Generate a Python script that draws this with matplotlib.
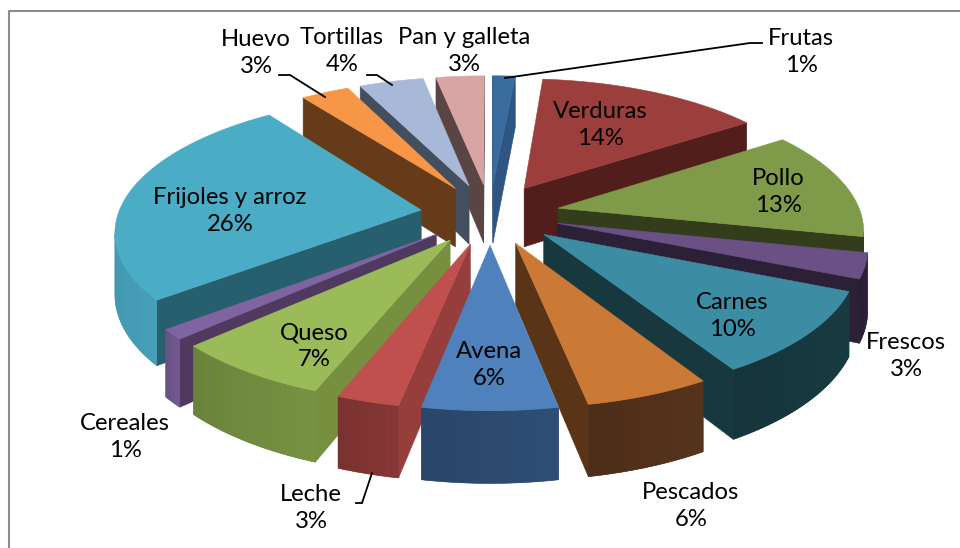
import numpy as np
import matplotlib
matplotlib.use("Agg")
import matplotlib.pyplot as plt
from matplotlib.patches import Polygon

plt.rcParams["font.family"] = ["Lato", "DejaVu Sans"]

# datos
categorias = ["Frutas", "Verduras", "Pollo", "Frescos", "Carnes", "Pescados", "Avena",
              "Leche", "Queso", "Cereales", "Frijoles y arroz", "Huevo", "Tortillas",
              "Pan y galleta"]
valores = [1.4, 14, 13, 3, 10, 5.6, 6, 2.8, 7.2, 1.2, 25.8, 3, 4, 3]

# colores: cara superior, cortes, borde exterior
c_top = ["#3A6B9F", "#9C3F3C", "#7F9A48", "#6A5085", "#3C8CA4", "#CB7A36", "#4F81BD",
         "#C0504D", "#9BBB59", "#8064A2", "#4BACC6", "#F79646", "#A8B8D8", "#D9A5A4"]
c_cut = ["#2F5583", "#521E1C", "#333D1C", "#2B2036", "#17383F", "#5A3417", "#2F4D71",
         "#963E3C", "#769040", "#50395F", "#275F6E", "#653B1A", "#434F5E", "#5A4545"]
c_rim = ["#2F5583", "#7A302E", "#333D1C", "#2B2036", "#17383F", "#52301A", "#2C4A6E",
         "#803432", "#708A3E", "#6B5487", "#4296AE", "#653B1A", "#434F5E", "#5A4545"]

# posicion de etiquetas (centro en pixeles)
pos_etiq = [(801, 52), (600, 125), (778, 192), (906, 356), (732, 316), (691, 506),
            (489, 365), (311, 508), (314, 346), (125, 437), (230, 211), (256, 53),
            (342, 51), (464, 51)]

# proyeccion con perspectiva ajustada a ojo
CX, CY = 490, 214
ESCALA_X, ESCALA_Y, ALTO = 303, 132, 60
K = 0.142
EXPLOSION = 0.23


def proy(x, y, z):
    w = 1 + K * y
    return np.column_stack([CX + ESCALA_X * x / w, CY - (ESCALA_Y * y + ALTO * z) / w])


def area(q):
    x, y = q[:, 0], q[:, 1]
    return np.sum(x * np.roll(y, -1) - np.roll(x, -1) * y)


def tono(color, f):
    rgb = np.array(matplotlib.colors.to_rgb(color)) * f
    return tuple(np.clip(rgb, 0, 1))


fig = plt.figure(figsize=(9.6, 5.48), dpi=100)
ax = fig.add_axes([0, 0, 1, 1])
ax.set_xlim(0, 960)
ax.set_ylim(548, 0)
ax.axis("off")

# marco: solo arriba y a la izquierda
ax.plot([9, 9, 960], [548, 11, 11], color="#8C8C8C", lw=1.5, zorder=0)

bordes = np.cumsum([0] + valores) / sum(valores) * 2 * np.pi
rebanadas = []
for i in range(len(valores)):
    a1, a2 = bordes[i], bordes[i + 1]
    med = (a1 + a2) / 2
    dx, dy = EXPLOSION * np.sin(med), EXPLOSION * np.cos(med)
    rebanadas.append((dy, i, a1, a2, dx))
rebanadas.sort(reverse=True)

zo = 1
for dy, i, a1, a2, dx in rebanadas:
    n = max(3, int(np.degrees(a2 - a1)))
    ang = np.linspace(a1, a2, n)
    xs, ys = dx + np.sin(ang), dy + np.cos(ang)
    arriba = proy(xs, ys, np.zeros(n))
    abajo = proy(xs, ys, -np.ones(n))
    ap_t = proy(np.array([dx]), np.array([dy]), np.array([0.0]))
    ap_b = proy(np.array([dx]), np.array([dy]), np.array([-1.0]))

    # cortes radiales
    for q in (np.vstack([ap_t, arriba[0], abajo[0], ap_b]),
              np.vstack([arriba[-1], ap_t, ap_b, abajo[-1]])):
        if area(q) < 0:
            ax.add_patch(Polygon(q, fc=c_cut[i], ec=c_cut[i], lw=0.4, zorder=zo))
            zo += 1

    # borde exterior: primero todo de un color, luego el degradado encima
    vis = [j for j in range(n - 1)
           if area(np.vstack([arriba[j], arriba[j + 1], abajo[j + 1], abajo[j]])) < 0]
    if vis:
        idx = list(range(vis[0], vis[-1] + 2))
        ax.add_patch(Polygon(np.vstack([arriba[idx], abajo[idx][::-1]]), fc=c_rim[i],
                             ec=c_rim[i], lw=0.4, zorder=zo))
        zo += 1
        for j in vis:
            col = tono(c_rim[i], 1.06 - 0.12 * j / (n - 1))
            q = np.vstack([arriba[j], arriba[j + 1], abajo[j + 1], abajo[j]])
            ax.add_patch(Polygon(q, fc=col, ec="none", zorder=zo))
        zo += 1

    # cara superior
    ax.add_patch(Polygon(np.vstack([ap_t, arriba]), fc=c_top[i], ec=c_top[i], lw=0.4, zorder=zo))
    zo += 1

# lineas guia
guias = [([762, 750, 505], [43, 43, 78]),
         ([279, 290, 325], [75, 75, 97]),
         ([367, 377, 392], [75, 75, 85]),
         ([356, 362, 372], [503, 503, 473])]
for gx, gy in guias:
    ax.plot(gx, gy, color="black", lw=1.3, zorder=zo, solid_joinstyle="miter")

for nombre, v, (px, py) in zip(categorias, valores, pos_etiq):
    ax.text(px, py, f"{nombre}\n{round(v)}%", ha="center", va="center", fontsize=17.2,
            linespacing=1.3, color="black", zorder=zo + 1)

fig.savefig("out.png", dpi=100)
